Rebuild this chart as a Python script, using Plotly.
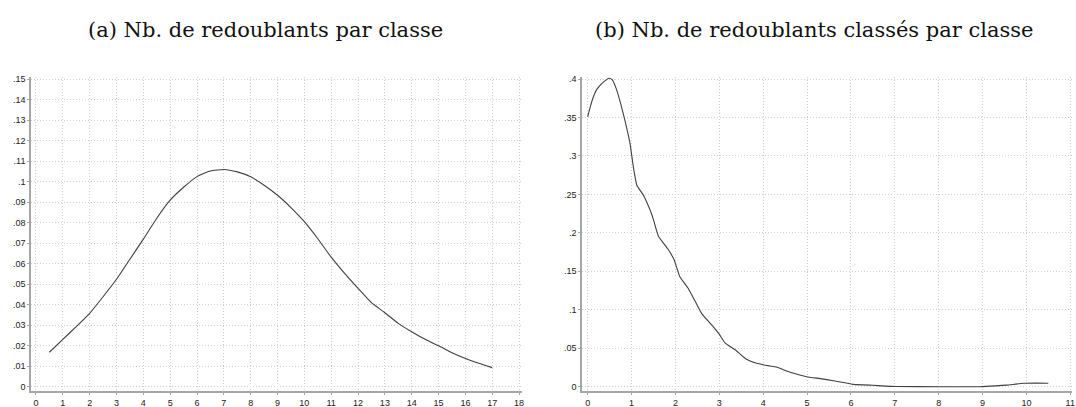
import plotly.graph_objects as go

# Panel (a): Nb. de redoublants par classe
xa = [0.5, 1.0, 1.5, 2.0, 2.5, 3.0, 3.5, 4.0, 4.5, 5.0, 5.5, 6.0, 6.5, 7.0, 7.5, 8.0, 8.5,
      9.0, 9.5, 10.0, 10.5, 11.0, 11.5, 12.0, 12.5, 13.0, 13.5, 14.0, 14.5, 15.0, 15.5,
      16.0, 16.5, 17.0]
ya = [0.0168, 0.0231, 0.0293, 0.0358, 0.0439, 0.0524, 0.0622, 0.0720, 0.0822, 0.0910,
      0.0973, 0.1025, 0.1052, 0.1060, 0.1048, 0.1024, 0.0983, 0.0934, 0.0874, 0.0805,
      0.0722, 0.0632, 0.0553, 0.0480, 0.0410, 0.0361, 0.0309, 0.0268, 0.0231, 0.0200,
      0.0166, 0.0138, 0.0114, 0.0093]

# Panel (b): Nb. de redoublants classés par classe
xb = [0.00, 0.07, 0.13, 0.20, 0.32, 0.40, 0.49, 0.56, 0.66, 0.81, 0.965, 1.04, 1.12, 1.27,
      1.42, 1.50, 1.61, 1.84, 1.97, 2.10, 2.29, 2.45, 2.60, 2.86, 3.00, 3.13, 3.36, 3.62,
      3.85, 4.15, 4.30, 4.60, 4.99, 5.30, 5.60, 6.06, 6.50, 7.05, 8.00, 8.95, 9.30, 9.55,
      9.93, 10.2, 10.5]
yb = [0.351, 0.366, 0.377, 0.386, 0.394, 0.398, 0.401, 0.399, 0.386, 0.355, 0.316, 0.286,
      0.262, 0.249, 0.230, 0.217, 0.196, 0.178, 0.165, 0.143, 0.128, 0.111, 0.095, 0.078,
      0.068, 0.057, 0.048, 0.0356, 0.0304, 0.027, 0.0255, 0.019, 0.013, 0.0105, 0.0078,
      0.003, 0.0018, 0.0002, 0.0, 0.0, 0.001, 0.002, 0.0044, 0.0047, 0.0045]

xa_ticks = list(range(0, 19))
ya_tickvals = [i / 100 for i in range(0, 16)]
ya_ticktext = ["0", ".01", ".02", ".03", ".04", ".05", ".06", ".07", ".08", ".09", ".1",
               ".11", ".12", ".13", ".14", ".15"]
xb_ticks = list(range(0, 12))
yb_tickvals = [0, 0.05, 0.1, 0.15, 0.2, 0.25, 0.3, 0.35, 0.4]
yb_ticktext = ["0", ".05", ".1", ".15", ".2", ".25", ".3", ".35", ".4"]

titles = ["(a) Nb. de redoublants par classe", "(b) Nb. de redoublants classés par classe"]

line_col = "#404040"
axis_col = "#a6a6a6"
grid_col = "#cfcfcf"

fig = go.Figure()
fig.add_trace(go.Scatter(x=xa, y=ya, mode="lines", line=dict(color=line_col, width=1.1, shape="spline", smoothing=0.5),
                         xaxis="x", yaxis="y", showlegend=False, hoverinfo="skip"))
fig.add_trace(go.Scatter(x=xb, y=yb, mode="lines", line=dict(color=line_col, width=1.1, shape="spline", smoothing=0.4),
                         xaxis="x2", yaxis="y2", showlegend=False, hoverinfo="skip"))

tickfont = dict(family="Liberation Sans, Arial, sans-serif", size=9, color="#222222")
common_axis = dict(showline=True, linecolor=axis_col, linewidth=1.5, ticks="outside", ticklen=2,
                   tickcolor=axis_col, tickwidth=1, showgrid=True, gridcolor=grid_col, griddash="1px,2px",
                   gridwidth=1, zeroline=False, tickfont=tickfont, fixedrange=True, automargin=False)

W, H = 1076, 407
ml, mr, mt, mb = 31, 4, 77, 16
pw = W - ml - mr
ph = H - mt - mb
d1 = [0, (522 - 31) / pw]
d2 = [(582 - 31) / pw, 1]

def px_to_paper(px_x, px_y):
    return (px_x - ml) / pw, 1 - (px_y - mt) / ph

t1x, t1y = px_to_paper(265, 30)
t2x, t2y = px_to_paper(814, 30)

fig.update_layout(
    width=W, height=H,
    margin=dict(l=ml, r=mr, t=mt, b=mb, autoexpand=False),
    paper_bgcolor="white", plot_bgcolor="white",
    xaxis=dict(domain=d1, range=[-0.186, 18.11], tickvals=xa_ticks, anchor="y", **common_axis),
    yaxis=dict(domain=[0, 1], range=[-0.0021, 0.1511], tickvals=ya_tickvals, ticktext=ya_ticktext, anchor="x", **common_axis),
    xaxis2=dict(domain=d2, range=[-0.13, 11.04], tickvals=xb_ticks, anchor="y2", **common_axis),
    yaxis2=dict(domain=[0, 1], range=[-0.0056, 0.4027], tickvals=yb_tickvals, ticktext=yb_ticktext, anchor="x2", **common_axis),
    annotations=[
        dict(text=titles[0], x=t1x, y=t1y, xref="paper", yref="paper", showarrow=False,
             xanchor="center", yanchor="middle", font=dict(family="DejaVu Serif", size=21, color="#111111")),
        dict(text=titles[1], x=t2x, y=t2y, xref="paper", yref="paper", showarrow=False,
             xanchor="center", yanchor="middle", font=dict(family="DejaVu Serif", size=21, color="#111111")),
    ],
)

# remove the default page margin so the figure fills the window exactly
fig.write_html("out.html", config={"displayModeBar": False},
               post_script="document.body.style.margin='0';document.body.style.overflow='hidden';")
